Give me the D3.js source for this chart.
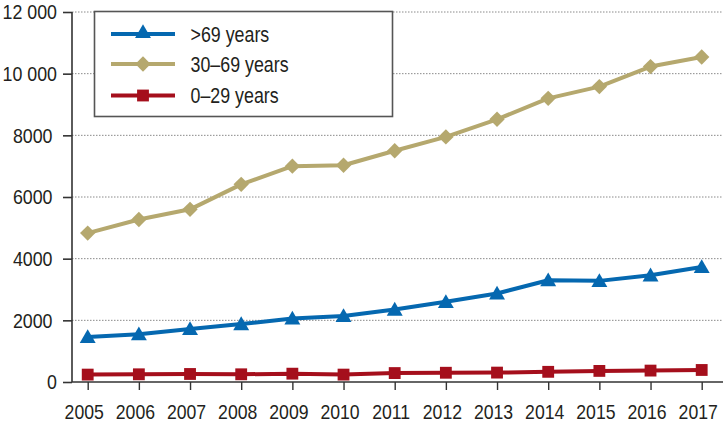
<!DOCTYPE html>
<html>
<head>
<meta charset="utf-8">
<script src="https://cdn.jsdelivr.net/npm/d3@7"></script>
<style>
  html, body { margin: 0; padding: 0; background: #fff; }
  svg { display: block; }
  text { font-family: "Liberation Sans", Arial, sans-serif; fill: #231f20; }
</style>
</head>
<body>
<svg id="chart" width="727" height="425"></svg>
<script>
const years = [2005, 2006, 2007, 2008, 2009, 2010, 2011, 2012, 2013, 2014, 2015, 2016, 2017];
const over69 = [1460, 1550, 1720, 1880, 2060, 2140, 2350, 2600, 2870, 3300, 3280, 3460, 3730];
const age30to69 = [4830, 5270, 5600, 6410, 7000, 7030, 7500, 7950, 8520, 9200, 9580, 10230, 10540];
const age0to29 = [240, 250, 260, 250, 270, 240, 290, 300, 305, 330, 360, 370, 390];
const yTicks = [0, 2000, 4000, 6000, 8000, 10000, 12000];
const yTickLabels = ["0", "2000", "4000", "6000", "8000", "10 000", "12 000"];
const seriesNames = [">69 years", "30–69 years", "0–29 years"];
const seriesColors = ["#0568b0", "#b5a86e", "#a50f1c"];
const seriesSymbols = ["triangle", "diamond", "square"];

const series = [
  { name: seriesNames[0], values: over69, color: seriesColors[0], symbol: seriesSymbols[0] },
  { name: seriesNames[1], values: age30to69, color: seriesColors[1], symbol: seriesSymbols[1] },
  { name: seriesNames[2], values: age0to29, color: seriesColors[2], symbol: seriesSymbols[2] }
];

const svg = d3.select("#chart");
const mLeft = 72, mRight = 723, mTop = 12, mBottom = 382;
const FONT = "'Liberation Sans', Arial, sans-serif";

// condense text horizontally (the original uses a narrow face)
function condense(sel, f) {
  sel.each(function () {
    const w = this.getComputedTextLength();
    d3.select(this).attr("textLength", w * f).attr("lengthAdjust", "spacingAndGlyphs");
  });
}

const x = d3.scalePoint().domain(years).range([87.7, 701.7]);
const y = d3.scaleLinear().domain([0, 12000]).range([mBottom, mTop]);

// gridlines
svg.append("g").selectAll("line")
  .data(yTicks.filter(d => d > 0))
  .join("line")
  .attr("x1", mLeft).attr("x2", mRight)
  .attr("y1", d => y(d)).attr("y2", d => y(d))
  .attr("stroke", "#8a8a8a")
  .attr("stroke-width", 1)
  .attr("stroke-dasharray", "1.5,1.5");

// y axis
const yAxis = d3.axisLeft(y).tickValues(yTicks)
  .tickFormat((d, i) => yTickLabels[i]).tickSize(9).tickPadding(6);
const gy = svg.append("g").attr("transform", `translate(${mLeft},0)`).call(yAxis);
gy.select(".domain").attr("stroke", "#333").attr("stroke-width", 1.6).attr("d", `M0,${mTop}V${mBottom}`);
gy.selectAll(".tick line").attr("stroke", "#333").attr("stroke-width", 1.6);
gy.selectAll(".tick text")
  .style("font-size", "20px").style("font-family", FONT).attr("fill", "#231f20")
  .attr("dy", "0.34em")
  .attr("dx", (d, i) => yTickLabels[i].length === 4 ? -4.5 : 0)
  .call(condense, 0.89);

// x axis
const xAxis = d3.axisBottom(x).tickSize(8).tickPadding(14);
const gx = svg.append("g").attr("transform", `translate(0,${mBottom})`).call(xAxis);
gx.select(".domain").attr("stroke", "#333").attr("stroke-width", 1.6).attr("d", `M${mLeft},0H${mRight}`);
gx.selectAll(".tick line").attr("stroke", "#333").attr("stroke-width", 1.4);
gx.selectAll(".tick text")
  .style("font-size", "21px").style("font-family", FONT).attr("fill", "#231f20")
  .attr("dx", -4)
  .call(condense, 0.84);

const symbolTypes = { triangle: d3.symbolTriangle, diamond: d3.symbolSquare, square: d3.symbolSquare };
const symbolSizes = { triangle: 110, diamond: 118, square: 140 };
function drawMarker(g, s, cx, cy) {
  const sym = d3.symbol().type(symbolTypes[s.symbol]).size(symbolSizes[s.symbol]);
  const rot = s.symbol === "diamond" ? 45 : 0;
  const dy = s.symbol === "triangle" ? 1.5 : 0;
  g.append("path")
    .attr("d", sym())
    .attr("transform", `translate(${cx},${cy + dy}) rotate(${rot})`)
    .attr("fill", s.color);
}

const line = d3.line().x((d, i) => x(years[i])).y(d => y(d));

[series[2], series[0], series[1]].forEach(s => {
  const g = svg.append("g");
  g.append("path")
    .attr("d", line(s.values))
    .attr("fill", "none")
    .attr("stroke", s.color)
    .attr("stroke-width", 4)
    .attr("stroke-linejoin", "round");
  s.values.forEach((v, i) => drawMarker(g, s, x(years[i]), y(v)));
});

// legend
const lg = svg.append("g");
lg.append("rect")
  .attr("x", 94.5).attr("y", 11.5).attr("width", 298).attr("height", 105)
  .attr("fill", "#fff").attr("stroke", "#555").attr("stroke-width", 1.6);
const rowsY = [34, 64, 95.5];
series.forEach((s, i) => {
  const ry = rowsY[i];
  lg.append("line").attr("x1", 111).attr("x2", 175)
    .attr("y1", ry).attr("y2", ry)
    .attr("stroke", s.color).attr("stroke-width", 4);
  drawMarker(lg, s, 143, ry - (s.symbol === "triangle" ? 2 : 0));
  lg.append("text").attr("x", 190.5).attr("y", ry).attr("dy", "0.36em")
    .style("font-size", "22px").style("font-family", FONT).text(s.name)
    .call(condense, 0.81);
});
</script>
</body>
</html>
